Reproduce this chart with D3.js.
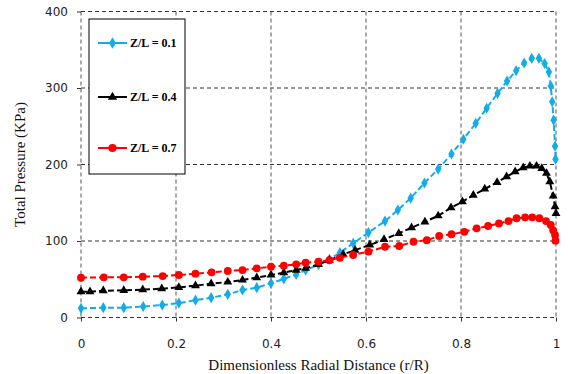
<!DOCTYPE html>
<html>
<head>
<meta charset="utf-8">
<script src="https://cdn.jsdelivr.net/npm/d3@7"></script>
<style>
  body { margin: 0; background: #fff; }
  .tick text { font-family: "DejaVu Sans", sans-serif; font-size: 12px; fill: #222; }
  .title { font-family: "Liberation Serif", serif; font-size: 15px; fill: #111; }
  .legtext { font-family: "Liberation Serif", serif; font-size: 12px; font-weight: bold; }
</style>
</head>
<body>
<div id="chart"></div>
<script>
// Z/L = 0.1 (blue diamonds)
var xBlue = [0, 0.047, 0.09, 0.131, 0.171, 0.206, 0.241, 0.274, 0.309, 0.34, 0.37, 0.4, 0.427, 0.453, 0.473, 0.5, 0.523, 0.545, 0.573, 0.605, 0.64, 0.667, 0.694, 0.723, 0.752, 0.78, 0.805, 0.831, 0.854, 0.877, 0.897, 0.916, 0.933, 0.949, 0.964, 0.976, 0.985, 0.989, 0.992, 0.995, 0.998, 0.999];
var yBlue = [12, 12.8, 12.8, 14.4, 16.2, 18.8, 22.7, 25.9, 30.3, 36, 39, 44.8, 50.5, 56.2, 62, 69, 76, 84.7, 97, 111, 126, 140.5, 156, 175.8, 194, 213.7, 233, 253.8, 273.5, 293, 309, 322.6, 332.7, 338.8, 338.8, 332, 321, 302.6, 282, 258, 224, 207];

// Z/L = 0.4 (black triangles)
var xBlack = [0, 0.019, 0.047, 0.09, 0.13, 0.17, 0.206, 0.241, 0.274, 0.309, 0.34, 0.37, 0.4, 0.427, 0.453, 0.473, 0.5, 0.523, 0.552, 0.577, 0.608, 0.638, 0.669, 0.696, 0.724, 0.752, 0.779, 0.803, 0.826, 0.85, 0.876, 0.896, 0.914, 0.931, 0.945, 0.959, 0.97, 0.98, 0.987, 0.994, 0.998, 1.0];
var yBlack = [33.7, 33.7, 35, 35.5, 36.4, 37.6, 39.4, 41.6, 44.2, 46.4, 49, 52, 55.6, 58.6, 62, 64.3, 69.5, 75, 82.6, 88, 94.8, 102, 110, 117.4, 125, 133, 143.5, 151.4, 160, 168, 176.7, 184, 190.6, 195.8, 198, 198, 195, 188.5, 177.5, 158.8, 145, 136];

// Z/L = 0.7 (red circles)
var xRed = [0, 0.048, 0.09, 0.13, 0.172, 0.206, 0.241, 0.275, 0.309, 0.34, 0.37, 0.4, 0.427, 0.453, 0.473, 0.5, 0.523, 0.545, 0.573, 0.605, 0.64, 0.67, 0.7, 0.728, 0.754, 0.78, 0.807, 0.833, 0.857, 0.88, 0.9, 0.917, 0.935, 0.95, 0.965, 0.979, 0.989, 0.994, 0.998, 0.999];
var yRed = [52, 52.5, 52.5, 53.4, 54.2, 55.6, 57.3, 59, 60.8, 62, 64.3, 66.4, 67.7, 69.5, 71.6, 73, 75, 78, 81.7, 86, 92.5, 93.5, 99, 101, 106.5, 108.8, 112, 116.6, 119.6, 123, 126, 129.7, 131, 131, 129.7, 126, 121, 114, 108, 100.4];

var seriesNames = ["Z/L = 0.1", "Z/L = 0.4", "Z/L = 0.7"];
var seriesColors = ["#12ade8", "#000000", "#ff0000"];
var xTicks = [0, 0.2, 0.4, 0.6, 0.8, 1];
var yTicks = [0, 100, 200, 300, 400];

var series = [
	{name: seriesNames[0], color: seriesColors[0], shape: d3.symbolDiamond, size: 36, x: xBlue, y: yBlue},
	{name: seriesNames[1], color: seriesColors[1], shape: d3.symbolTriangle, size: 34, x: xBlack, y: yBlack},
	{name: seriesNames[2], color: seriesColors[2], shape: d3.symbolCircle, size: 48, x: xRed, y: yRed}
];

var margin = {top: 11.5, right: 12, bottom: 56.5, left: 81};
var W = 568, H = 374;
var width = W - margin.left - margin.right;
var height = H - margin.top - margin.bottom;

var svg = d3.select("#chart").append("svg")
	.attr("width", W)
	.attr("height", H)
	.append("g")
	.attr("transform", "translate(" + margin.left + "," + margin.top + ")");

var xScale = d3.scaleLinear().domain([0, 1]).range([0, 475]);
var yScale = d3.scaleLinear().domain([0, 400]).range([height, 0]);

// dashed grid (includes frame)
svg.append("g").selectAll("line.gx")
	.data(xTicks)
	.enter().append("line")
	.attr("x1", function(d) { return xScale(d); })
	.attr("x2", function(d) { return xScale(d); })
	.attr("y1", 0).attr("y2", height)
	.attr("stroke", "#555").attr("stroke-width", 1).attr("stroke-dasharray", "4,3");

svg.append("g").selectAll("line.gy")
	.data(yTicks)
	.enter().append("line")
	.attr("x1", 0).attr("x2", xScale(1))
	.attr("y1", function(d) { return yScale(d); })
	.attr("y2", function(d) { return yScale(d); })
	.attr("stroke", "#333").attr("stroke-width", 1).attr("stroke-dasharray", "4,3");

// axes
var xAxis = svg.append("g")
	.attr("transform", "translate(0," + height + ")")
	.call(d3.axisBottom(xScale).tickValues(xTicks).tickSize(4).tickPadding(18).tickFormat(d3.format("")));
var yAxis = svg.append("g")
	.call(d3.axisLeft(yScale).tickValues(yTicks).tickSize(4).tickPadding(9));
[xAxis, yAxis].forEach(function(a) {
	a.select(".domain").remove();
	a.selectAll(".tick line").attr("stroke", "#333");
});

// series lines and markers
var line = d3.line()
	.x(function(d) { return xScale(d[0]); })
	.y(function(d) { return yScale(d[1]); });

series.forEach(function(s) {
	var pts = s.x.map(function(v, i) { return [v, s.y[i]]; });
	svg.append("path")
		.datum(pts)
		.attr("d", line)
		.attr("fill", "none")
		.attr("stroke", s.color)
		.attr("stroke-width", 2)
		.attr("stroke-dasharray", "6,3");
	svg.append("g").selectAll("path")
		.data(pts)
		.enter().append("path")
		.attr("d", d3.symbol().type(s.shape).size(s.size))
		.attr("transform", function(d) { return "translate(" + xScale(d[0]) + "," + yScale(d[1]) + ")"; })
		.attr("fill", s.color);
});

// axis titles
svg.append("text")
	.attr("class", "title")
	.attr("x", xScale(0.5))
	.attr("y", height + 52)
	.attr("text-anchor", "middle")
	.text("Dimensionless Radial Distance (r/R)");

svg.append("text")
	.attr("class", "title")
	.attr("transform", "rotate(-90)")
	.attr("x", -height / 2)
	.attr("y", -56)
	.attr("text-anchor", "middle")
	.text("Total Pressure (KPa)");

// legend
var legend = svg.append("g").attr("transform", "translate(" + (89 - margin.left) + "," + (19 - margin.top) + ")");
legend.append("rect")
	.attr("width", 96).attr("height", 155)
	.attr("fill", "#fff").attr("stroke", "#000").attr("stroke-width", 1);

var legY = [24, 78, 129];
series.forEach(function(s, i) {
	var g = legend.append("g").attr("transform", "translate(0," + legY[i] + ")");
	g.append("line").attr("x1", 9).attr("x2", 38).attr("y1", 0).attr("y2", 0)
		.attr("stroke", s.color).attr("stroke-width", 2);
	g.append("path")
		.attr("d", d3.symbol().type(s.shape).size(s.size * 1.1))
		.attr("transform", "translate(23.5,0)")
		.attr("fill", s.color);
	g.append("text").attr("class", "legtext")
		.attr("x", 41).attr("y", 4)
		.text(s.name);
});
</script>
</body>
</html>
